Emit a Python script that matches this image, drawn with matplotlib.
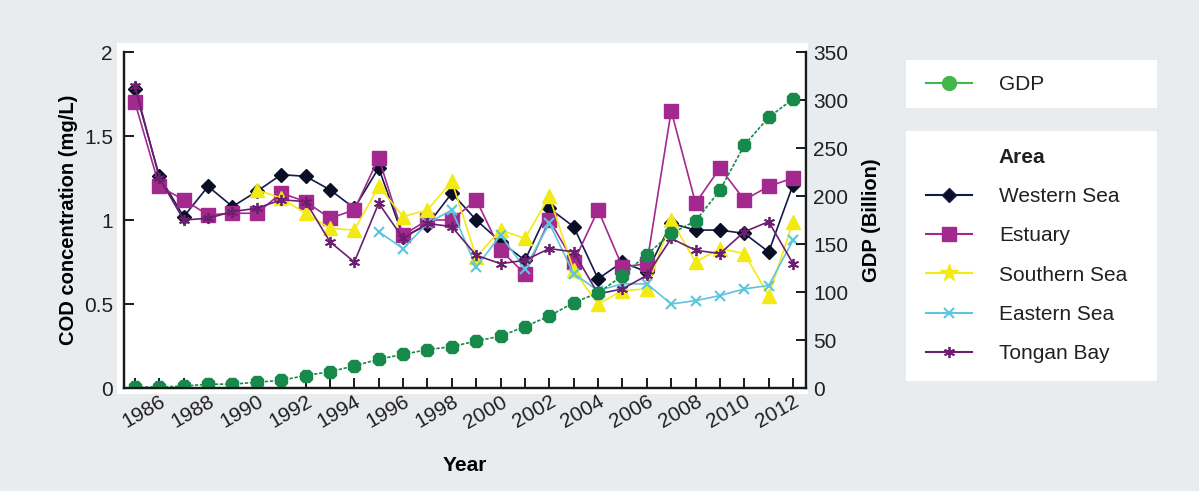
import matplotlib
matplotlib.use("Agg")
import matplotlib.pyplot as plt
from matplotlib.lines import Line2D
from matplotlib.patches import Rectangle
from matplotlib.ticker import FixedLocator, FuncFormatter

plt.rcParams["font.family"] = ["Liberation Sans", "DejaVu Sans"]
plt.rcParams["text.color"] = "#231f20"

years = list(range(1985, 2013))

western = [1.78, 1.26, 1.02, 1.20, 1.08, 1.17, 1.27, 1.26, 1.18, 1.07,
           1.31, 0.90, 0.97, 1.16, 1.00, 0.87, 0.76, 1.07, 0.96, 0.65,
           0.75, 0.69, 0.98, 0.94, 0.94, 0.92, 0.81, 1.21]
estuary = [1.70, 1.20, 1.12, 1.03, 1.04, 1.04, 1.16, 1.11, 1.01, 1.06,
           1.37, 0.91, 1.00, 1.00, 1.12, 0.82, 0.68, 1.00, 0.75, 1.06,
           0.72, 0.74, 1.65, 1.10, 1.31, 1.12, 1.20, 1.25]
southern_years = list(range(1990, 2013))
southern = [1.18, 1.13, 1.04, 0.95, 0.94, 1.20, 1.02, 1.06, 1.23, 0.78,
            0.94, 0.89, 1.14, 0.70, 0.50, 0.58, 0.59, 1.00, 0.75, 0.83,
            0.80, 0.55, 0.99]
eastern_years = list(range(1995, 2013))
eastern = [0.93, 0.83, 0.98, 1.06, 0.72, 0.91, 0.71, 0.98, 0.68, 0.58,
           0.62, 0.62, 0.50, 0.52, 0.55, 0.59, 0.61, 0.88]
tongan = [1.80, 1.25, 1.00, 1.01, 1.05, 1.07, 1.12, 1.11, 0.87, 0.75,
          1.10, 0.89, 0.98, 0.96, 0.79, 0.74, 0.76, 0.83, 0.81, 0.56,
          0.59, 0.67, 0.89, 0.82, 0.80, 0.93, 0.99, 0.74]
gdp = [1, 1, 2, 4, 4, 6, 8, 13, 17, 23,
       30, 35, 40, 43, 49, 54, 64, 75, 89, 99,
       117, 139, 161, 174, 206, 253, 282, 301]

BG = "#e8ecef"
W, H = 1199, 491

fig = plt.figure(figsize=(W / 100, H / 100), dpi=100, facecolor=BG)


def fx(px):
    return px / W


def fy(py):
    return 1 - py / H


# white panel behind the plot and the two legend boxes
for x0, y0, x1, y1 in [(117, 43, 808, 394), (906, 60, 1157, 108), (906, 131, 1157, 381)]:
    fig.patches.append(Rectangle((fx(x0), fy(y1)), fx(x1) - fx(x0), fy(y0) - fy(y1),
                                 transform=fig.transFigure, facecolor="white",
                                 edgecolor="none", zorder=-5))

ax = fig.add_axes([fx(124), fy(388), fx(806) - fx(124), fy(52) - fy(388)])
ax.set_facecolor("white")
ax2 = ax.twinx()

lw = 1.2
l_w, = ax.plot(years, western, color="#141a4d", marker="D", markersize=7.5,
               markerfacecolor="#0b0f26", markeredgecolor="#0b0f26", lw=lw, label="Western Sea")
l_e, = ax.plot(years, estuary, color="#a3298f", marker="s", markersize=10,
               lw=lw, label="Estuary")
l_s, = ax.plot(southern_years, southern, color="#f2ea12", marker="^", markersize=10,
               lw=lw, label="Southern Sea")
l_c, = ax.plot(eastern_years, eastern, color="#5cc6dc", marker="x", markersize=7,
               markeredgewidth=1.5, lw=lw, label="Eastern Sea")
l_t, = ax.plot(years, tongan, color="#6b1f6e", marker=(6, 2, 0), markersize=8,
               markeredgewidth=1.3, lw=lw, label="Tongan Bay")
l_g, = ax2.plot(years, gdp, color="#17894b", marker="8", markersize=10,
                lw=lw, linestyle=(0, (2, 1)), label="GDP")

ax.set_xlim(1984.55, 2012.53)
ax.set_ylim(0, 2)
ax2.set_ylim(0, 350)

ax.xaxis.set_major_locator(FixedLocator(list(range(1986, 2013, 2))))
ax.xaxis.set_minor_locator(FixedLocator(list(range(1985, 2013, 2))))
ax.set_yticks([0, 0.5, 1, 1.5, 2])
ax.yaxis.set_major_formatter(FuncFormatter(lambda v, p: f"{v:g}"))
ax2.set_yticks(range(0, 351, 50))

for a in (ax, ax2):
    a.spines["top"].set_visible(False)
    for s in a.spines.values():
        s.set_linewidth(1.6)
        s.set_color("#1a1a1a")
ax.tick_params(axis="both", which="both", direction="in", length=7, width=1.4,
               labelsize=15, colors="#1a1a1a", labelcolor="#231f20")
ax.tick_params(axis="y", pad=8)
ax.tick_params(axis="x", pad=3)
ax2.tick_params(axis="y", direction="in", length=7, width=1.4, labelsize=15,
                pad=5, colors="#1a1a1a", labelcolor="#231f20")
for lab in ax.get_xticklabels():
    lab.set_rotation(30)
    lab.set_ha("right")
    lab.set_va("top")
    lab.set_rotation_mode("anchor")

ax.set_xlabel("Year", fontsize=15, fontweight="bold", labelpad=17)
ax.set_ylabel("COD concentration (mg/L)", fontsize=14.5, fontweight="bold", labelpad=4)
ax2.set_ylabel("GDP (Billion)", fontsize=14.5, fontweight="bold", labelpad=10)

# legends
gdp_handle = Line2D([], [], color="#43b649", marker="o", markersize=10, lw=1.5)
fig.legend([gdp_handle], ["GDP"], loc="center left",
           bbox_to_anchor=(fx(926), fy(85)), frameon=False, fontsize=15,
           borderpad=0, borderaxespad=0, handlelength=2.2, handletextpad=1.3)

area_handles = [Line2D([], [], linestyle="none")] + [
    Line2D([], [], color="#141a4d", marker="D", markersize=7, markerfacecolor="#0b0f26", lw=1.5),
    Line2D([], [], color="#a3298f", marker="s", markersize=10, lw=1.5),
    Line2D([], [], color="#f2ea12", marker="*", markersize=13, lw=1.5),
    Line2D([], [], color="#5cc6dc", marker="x", markersize=7, markeredgewidth=1.5, lw=1.5),
    Line2D([], [], color="#6b1f6e", marker=(6, 2, 0), markersize=8, markeredgewidth=1.3, lw=1.5),
]
area_labels = ["Area", "Western Sea", "Estuary", "Southern Sea", "Eastern Sea", "Tongan Bay"]
leg = fig.legend(area_handles, area_labels, loc="upper left",
                 bbox_to_anchor=(fx(926), fy(148)), frameon=False, fontsize=15,
                 borderpad=0, borderaxespad=0, handlelength=2.2, handletextpad=1.3,
                 labelspacing=0.97)
leg.get_texts()[0].set_fontweight("bold")

fig.savefig("out.png", dpi=100, facecolor=BG)
